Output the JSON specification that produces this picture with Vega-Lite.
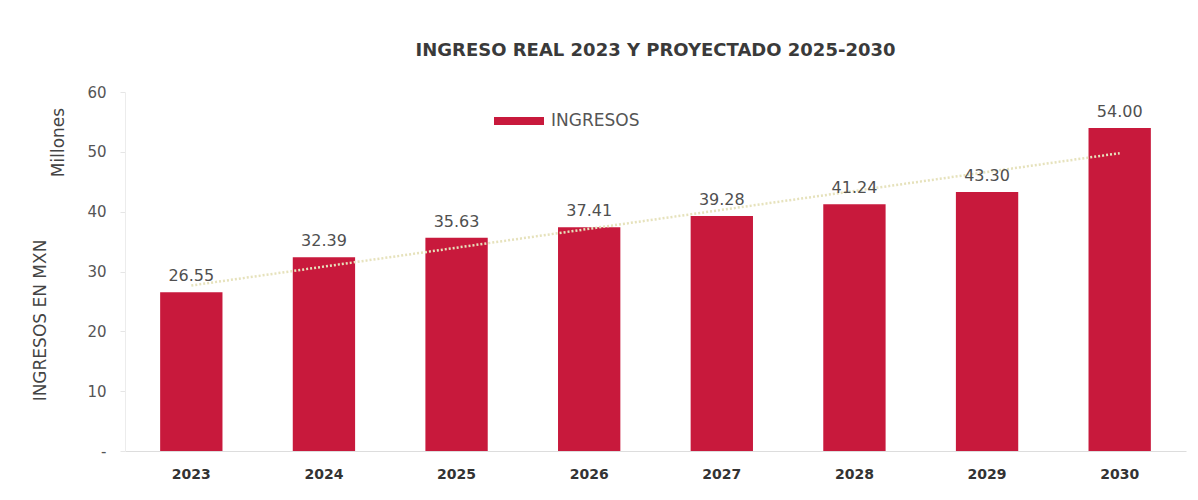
{
  "$schema": "https://vega.github.io/schema/vega-lite/v6.json",
  "width": 1061,
  "height": 359,
  "autosize": "none",
  "padding": {"left": 125, "top": 92, "right": 12, "bottom": 49},
  "background": "white",
  "title": {
    "text": "INGRESO REAL 2023 Y PROYECTADO 2025-2030",
    "font": "DejaVu Sans",
    "fontSize": 18,
    "fontWeight": "bold",
    "color": "#3a3a3a",
    "offset": 25
  },
  "config": {"view": {"stroke": null}, "font": "DejaVu Sans"},
  "datasets": {
    "ingresos": [
      {"year": "2023", "ingresos": 26.55},
      {"year": "2024", "ingresos": 32.39},
      {"year": "2025", "ingresos": 35.63},
      {"year": "2026", "ingresos": 37.41},
      {"year": "2027", "ingresos": 39.28},
      {"year": "2028", "ingresos": 41.24},
      {"year": "2029", "ingresos": 43.30},
      {"year": "2030", "ingresos": 54.00}
    ],
    "tendencia": [
      {"year": "2023", "tendencia": 27.66},
      {"year": "2030", "tendencia": 49.78}
    ]
  },
  "resolve": {"axis": {"y": "independent"}},
  "layer": [
    {
      "data": {"name": "ingresos"},
      "mark": {"type": "bar", "color": "#c8193c"},
      "encoding": {
        "x": {
          "field": "year",
          "type": "nominal",
          "scale": {"paddingInner": 0.53, "paddingOuter": 0.265},
          "axis": {
            "title": null,
            "labelAngle": 0,
            "labelFontSize": 14,
            "labelFontWeight": "bold",
            "labelColor": "#333333",
            "labelPadding": 16,
            "ticks": false,
            "domainColor": "#dddddd",
            "grid": false
          }
        },
        "y": {
          "field": "ingresos",
          "type": "quantitative",
          "scale": {"domain": [0, 60], "nice": false},
          "axis": {
            "title": "Millones",
            "titleFontSize": 17,
            "titleFontWeight": "normal",
            "titleColor": "#444444",
            "titleX": -67,
            "titleY": 50,
            "titleAngle": -90,
            "titleAlign": "center",
            "titleBaseline": "middle",
            "values": [0, 10, 20, 30, 40, 50, 60],
            "labelExpr": "datum.value == 0 ? '-' : datum.label",
            "labelFontSize": 15,
            "labelColor": "#555555",
            "labelPadding": 14,
            "tickSize": 5,
            "tickColor": "#e6e6e6",
            "domainColor": "#ececec",
            "grid": false
          }
        },
        "color": {
          "datum": "INGRESOS",
          "scale": {"range": ["#c8193c"]},
          "legend": {
            "title": null,
            "orient": "none",
            "legendX": 368,
            "legendY": 3,
            "symbolType": "M-1,-0.16H1V0.16H-1Z",
            "symbolSize": 2500,
            "labelFontSize": 17,
            "labelColor": "#555555",
            "labelOffset": 6,
            "padding": 0
          }
        }
      }
    },
    {
      "data": {"name": "tendencia"},
      "mark": {"type": "line", "color": "#e6e2bc", "strokeWidth": 2.5, "strokeDash": [2, 2]},
      "encoding": {
        "x": {"field": "year", "type": "nominal"},
        "y": {
          "field": "tendencia",
          "type": "quantitative",
          "axis": {
            "orient": "left",
            "title": "INGRESOS EN MXN",
            "titleFontSize": 17,
            "titleFontWeight": "normal",
            "titleColor": "#444444",
            "titleX": -85,
            "titleY": 228,
            "titleAngle": -90,
            "titleAlign": "center",
            "titleBaseline": "middle",
            "labels": false,
            "ticks": false,
            "domain": false,
            "grid": false
          }
        }
      }
    },
    {
      "data": {"name": "ingresos"},
      "mark": {"type": "text", "baseline": "bottom", "dy": -8, "fontSize": 16, "color": "#505050"},
      "encoding": {
        "x": {"field": "year", "type": "nominal"},
        "y": {"field": "ingresos", "type": "quantitative", "axis": null},
        "text": {"field": "ingresos", "type": "quantitative", "format": ".2f"}
      }
    }
  ]
}
